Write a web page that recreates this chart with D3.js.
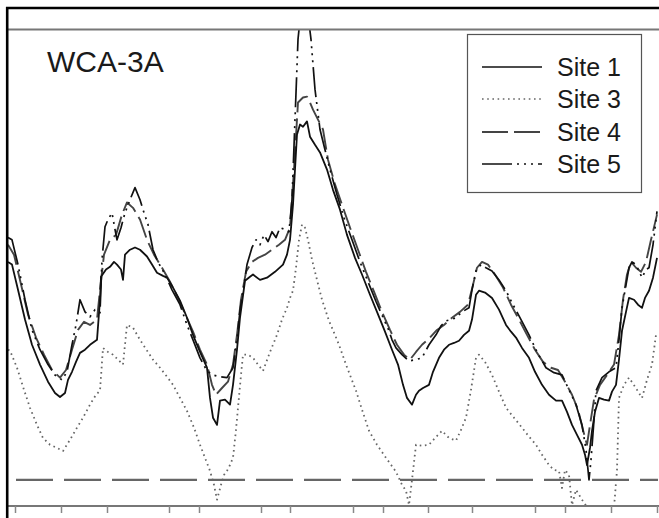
<!DOCTYPE html>
<html>
<head>
<meta charset="utf-8">
<script src="https://cdn.jsdelivr.net/npm/d3@7"></script>
<style>
  html, body { margin: 0; padding: 0; background: #fff; }
  svg { display: block; font-family: "Liberation Sans", Arial, sans-serif; }
</style>
</head>
<body>
<svg id="chart" width="659" height="518"></svg>
<script>
// Water depth (cm, relative to ground surface) by day of record, WCA-3A sites
const title = "WCA-3A";
const seriesNames = ["Site 1", "Site 3", "Site 4", "Site 5"];

const site1 = [
  [0,48.4],[4,47.8],[10,42.2],[17,35.6],[24,30.0],[32,25.6],[40,21.8],[47,19.3],[52,18.4],[57,19.3],
  [60,22.2],[64,24.0],[68,26.2],[72,28.2],[77,28.9],[82,30.0],[89,31.1],[92,40.0],[93,45.1],[98,46.7],
  [102,47.3],[106,48.4],[109,47.8],[113,46.7],[115,44.4],[117,50.0],[122,51.1],[127,51.6],[132,51.1],[139,49.6],
  [144,47.8],[149,46.0],[155,45.3],[159,44.9],[165,42.7],[172,39.8],[179,36.0],[185,32.2],[192,28.4],[199,24.9],
  [202,18.2],[205,13.8],[209,12.2],[212,17.6],[217,17.8],[222,16.7],[225,21.1],[229,28.9],[232,36.0],[237,44.2],
  [242,45.1],[245,45.6],[252,44.4],[259,44.9],[267,46.2],[275,47.8],[279,50.0],[282,53.3],[285,61.1],[287,68.9],
  [289,76.7],[292,78.9],[295,78.4],[299,79.6],[302,76.2],[307,74.4],[312,72.7],[319,68.9],[325,64.4],[332,60.0],
  [339,54.4],[347,49.3],[354,45.6],[362,41.1],[369,37.3],[377,32.9],[384,28.9],[390,25.6],[395,21.1],[399,18.2],
  [404,16.7],[408,18.9],[411,19.8],[415,20.4],[421,21.1],[425,24.0],[431,27.1],[436,28.9],[441,30.0],[446,30.4],
  [451,30.9],[456,32.2],[461,33.1],[464,35.6],[468,41.1],[471,42.0],[477,41.6],[484,40.4],[491,37.8],[498,34.4],
  [503,32.9],[508,31.6],[514,29.3],[521,27.1],[527,24.0],[534,21.1],[541,18.9],[548,17.6],[554,17.6],[559,15.1],
  [564,12.2],[569,10.0],[574,7.8],[577,5.6],[579,3.3],[582,7.1],[584,10.9],[587,15.1],[591,18.2],[596,17.8],
  [601,17.6],[604,19.6],[608,21.1],[611,26.7],[614,33.1],[618,37.3],[621,40.4],[626,40.0],[630,38.9],[634,38.2],
  [637,40.4],[641,42.0],[645,44.9],[649,49.3]
];

const site3 = [
  [0,28.9],[2,28.7],[9,24.9],[16,20.0],[22,16.0],[29,12.2],[35,9.3],[42,7.8],[49,7.1],[55,6.4],
  [62,8.9],[69,11.6],[75,13.8],[82,16.7],[88,18.9],[92,19.8],[95,29.3],[100,28.4],[105,27.8],[110,26.7],
  [115,25.6],[119,34.4],[125,33.8],[132,31.1],[139,28.7],[145,26.7],[152,24.9],[159,22.9],[165,21.1],[172,18.2],
  [179,15.3],[186,11.6],[192,7.8],[197,4.9],[202,2.0],[206,-1.1],[209,-4.4],[213,-1.1],[216,1.1],[219,2.0],
  [222,3.3],[225,4.9],[228,11.1],[230,16.0],[233,23.3],[235,27.8],[240,27.8],[245,27.1],[250,25.6],[255,24.2],
  [262,28.4],[269,32.2],[274,35.6],[279,38.2],[282,40.4],[285,42.0],[288,47.1],[291,53.3],[294,56.7],[297,56.0],
  [300,53.3],[304,48.9],[309,44.4],[314,40.0],[321,35.3],[326,32.7],[331,30.0],[338,25.6],[348,19.8],[354,15.6],
  [361,10.9],[369,7.8],[378,4.9],[388,1.8],[394,-1.1],[398,-2.4],[401,-5.6],[404,0.0],[408,7.8],[414,7.6],
  [421,7.8],[427,9.3],[434,10.9],[441,9.3],[448,8.7],[453,11.1],[458,13.8],[463,20.0],[468,27.1],[471,27.8],
  [477,26.2],[484,23.3],[491,19.6],[498,16.0],[506,13.8],[514,11.6],[521,9.6],[528,7.8],[534,5.6],[541,3.3],
  [546,2.2],[551,2.0],[554,-1.8],[557,2.2],[561,1.1],[564,-5.6],[568,-2.2],[574,-4.4],[581,-6.7],[590,-7.8],
  [600,-7.1],[606,-6.2],[609,2.2],[611,18.2],[616,21.1],[621,22.7],[627,20.7],[634,18.2],[639,22.2],[644,25.6],
  [648,32.2]
];

const site4 = [
  [0,52.2],[6,50.0],[12,44.4],[20,36.7],[28,31.6],[36,27.8],[44,24.4],[52,22.7],[58,24.4],[64,28.9],
  [70,33.3],[76,35.1],[82,34.4],[89,35.6],[92,42.2],[96,50.0],[102,53.3],[108,54.4],[114,58.9],[119,61.6],
  [125,60.4],[132,57.8],[139,53.3],[146,50.0],[154,47.1],[162,44.0],[170,40.4],[178,36.4],[185,32.9],[192,28.9],
  [199,25.6],[204,21.1],[208,18.9],[214,20.4],[220,21.8],[225,25.6],[229,32.2],[233,40.0],[238,46.2],[244,48.4],
  [250,49.3],[257,50.0],[264,51.1],[271,52.2],[277,53.3],[282,56.0],[286,68.9],[290,83.8],[295,84.9],[299,85.1],
  [302,83.8],[305,82.2],[310,80.0],[315,77.8],[320,71.1],[327,65.6],[334,61.1],[342,56.0],[350,51.1],[358,46.2],
  [366,41.8],[374,37.3],[382,33.3],[389,30.0],[396,27.8],[402,26.7],[408,28.4],[414,30.0],[422,31.6],[429,33.3],
  [436,34.4],[444,36.0],[452,37.3],[460,38.9],[465,43.3],[469,47.1],[474,48.4],[480,47.8],[487,45.6],[495,42.7],
  [503,38.9],[511,35.6],[519,32.2],[527,28.9],[535,26.2],[543,24.9],[550,24.4],[557,21.8],[564,18.9],[570,15.6],
  [575,11.1],[579,7.8],[582,12.2],[586,17.8],[592,21.1],[599,23.3],[606,25.6],[611,32.2],[615,40.0],[619,45.6],
  [623,48.4],[628,47.1],[633,46.2],[638,48.4],[643,53.3],[649,58.9]
];

const site5 = [
  [0,53.8],[4,53.3],[10,47.8],[17,40.0],[24,33.3],[32,28.9],[40,25.6],[47,23.3],[54,22.2],[59,24.0],
  [64,30.0],[68,34.4],[72,40.0],[77,37.3],[82,36.2],[87,37.8],[92,37.1],[94,48.9],[97,56.2],[100,57.8],
  [104,59.3],[107,55.6],[109,53.3],[113,56.0],[117,59.3],[122,62.2],[127,64.9],[132,62.2],[135,60.0],[140,56.7],
  [145,51.1],[150,48.4],[157,45.6],[164,42.2],[172,38.9],[179,34.4],[185,31.1],[192,27.1],[199,24.2],[205,23.3],
  [212,22.9],[219,22.7],[225,24.9],[229,31.1],[232,37.6],[236,43.3],[239,47.8],[244,51.6],[248,53.3],[252,52.2],
  [256,54.4],[260,52.9],[264,55.1],[268,53.8],[272,56.0],[277,55.6],[281,55.1],[284,62.2],[287,80.0],[290,97.8],
  [293,104.4],[297,105.6],[300,103.3],[303,97.8],[307,86.7],[312,77.8],[317,73.3],[322,68.9],[329,63.3],[336,58.2],
  [344,53.3],[352,48.4],[360,44.0],[368,39.6],[376,35.6],[381,33.1],[384,31.1],[388,29.3],[394,27.8],[401,26.4],
  [408,26.7],[414,27.1],[421,30.0],[428,32.2],[433,34.2],[438,35.3],[443,35.6],[448,36.0],[454,37.3],[461,38.2],
  [464,42.2],[468,46.4],[473,47.8],[478,47.1],[484,46.4],[491,44.4],[498,42.0],[505,38.9],[513,35.6],[521,32.2],
  [529,28.4],[538,24.9],[546,23.8],[554,23.3],[561,20.0],[568,16.7],[574,12.2],[578,6.7],[581,0.0],[583,4.4],
  [586,13.3],[588,19.8],[594,22.7],[601,24.0],[608,24.9],[611,31.1],[614,38.2],[618,43.3],[621,47.1],[624,48.4],
  [628,47.8],[634,44.9],[638,46.7],[641,47.1],[645,52.2],[649,59.6]
];

// Ground surface reference (depth 0)
const groundLevel = 0;

// Sampling-date ticks along the time axis (day of record)
const tickDays = [7, 53, 99, 161, 191, 253, 282, 345, 375, 420, 464, 527, 557, 603, 649];

const seriesData = { "Site 1": site1, "Site 3": site3, "Site 4": site4, "Site 5": site5 };

const styles = {
  "Site 1": { stroke: "#111", width: 1.8, dash: null },
  "Site 3": { stroke: "#666", width: 1.8, dash: "1.6,3.6" },
  "Site 4": { stroke: "#444", width: 1.9, dash: "22,6" },
  "Site 5": { stroke: "#111", width: 1.7, dash: "30,5,2,5,2,5,2,5" }
};

const svg = d3.select("#chart");
const W = 659, H = 518;
const plot = { left: 8, right: 658, top: 29.5, bottom: 506 };

const x = d3.scaleLinear().domain([0, 650]).range([plot.left, plot.right]);
const y = d3.scaleLinear().domain([-5.8, 100]).range([plot.bottom, plot.top]);

svg.append("rect").attr("width", W).attr("height", H).attr("fill", "#fff");

svg.append("defs").append("clipPath").attr("id", "plotClip")
  .append("rect")
  .attr("x", plot.left).attr("y", plot.top)
  .attr("width", plot.right - plot.left).attr("height", plot.bottom - plot.top);

const g = svg.append("g").attr("clip-path", "url(#plotClip)");

const line = d3.line().x(d => x(d[0])).y(d => y(d[1])).curve(d3.curveLinear);

// ground-surface reference
g.append("line")
  .attr("x1", x(8)).attr("x2", x(650))
  .attr("y1", y(groundLevel)).attr("y2", y(groundLevel))
  .attr("stroke", "#666").attr("stroke-width", 2.4)
  .attr("stroke-dasharray", "37,11");

// draw order: dotted first, solid on top
["Site 3", "Site 4", "Site 5", "Site 1"].forEach(name => {
  const s = styles[name];
  g.append("path")
    .datum(seriesData[name])
    .attr("d", line)
    .attr("fill", "none")
    .attr("stroke", s.stroke)
    .attr("stroke-width", s.width)
    .attr("stroke-linejoin", "round")
    .attr("stroke-dasharray", s.dash);
});

// top spine
svg.append("line")
  .attr("x1", plot.left).attr("x2", W)
  .attr("y1", plot.top).attr("y2", plot.top)
  .attr("stroke", "#777").attr("stroke-width", 2);

// bottom time axis with unlabeled ticks
const xAxis = d3.axisBottom(x)
  .tickValues(tickDays)
  .tickFormat("")
  .tickSizeInner(7)
  .tickSizeOuter(0);

const ax = svg.append("g")
  .attr("transform", `translate(0,${plot.bottom})`)
  .call(xAxis);
ax.select(".domain").attr("stroke", "#777").attr("stroke-width", 2)
  .attr("d", `M${plot.left},0H${W}`);
ax.selectAll(".tick line").attr("stroke", "#888").attr("stroke-width", 1.5);

// outer frame (top and left)
svg.append("line").attr("x1", 6).attr("x2", W).attr("y1", 8).attr("y2", 8)
  .attr("stroke", "#000").attr("stroke-width", 2.5);
svg.append("line").attr("x1", 7.2).attr("x2", 7.2).attr("y1", 7).attr("y2", H)
  .attr("stroke", "#000").attr("stroke-width", 2.6);

// title
svg.append("text")
  .attr("x", 47).attr("y", 72)
  .attr("font-size", 30)
  .attr("fill", "#1a1a1a")
  .text(title);

// legend
const legend = svg.append("g");
legend.append("rect")
  .attr("x", 467.5).attr("y", 34.5)
  .attr("width", 174).attr("height", 158)
  .attr("fill", "#fff")
  .attr("stroke", "#555").attr("stroke-width", 1.2);

const rowY = [67, 99, 132, 164];
seriesNames.forEach((name, i) => {
  const s = styles[name];
  legend.append("line")
    .attr("x1", 482).attr("x2", 542)
    .attr("y1", rowY[i]).attr("y2", rowY[i])
    .attr("stroke", s.stroke)
    .attr("stroke-width", name === "Site 4" ? 2.2 : 1.6)
    .attr("stroke-dasharray", name === "Site 4" ? "26,6" : s.dash);
  legend.append("text")
    .attr("x", 557).attr("y", rowY[i] + 8.5)
    .attr("font-size", 25)
    .attr("fill", "#1a1a1a")
    .text(name);
});
</script>
</body>
</html>
